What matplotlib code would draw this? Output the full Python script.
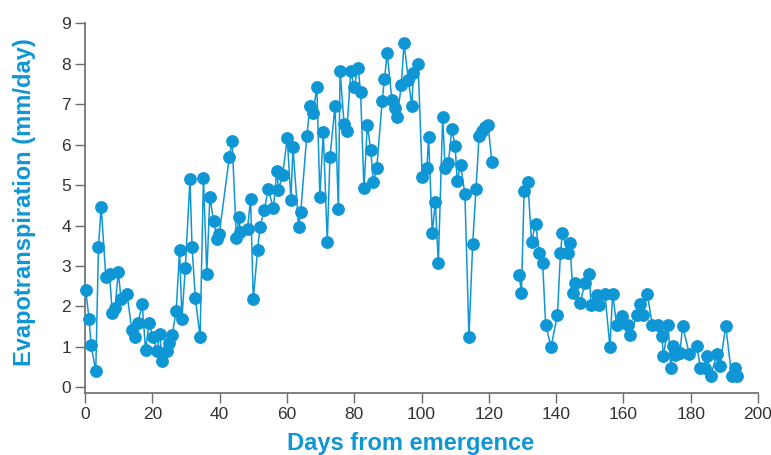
import matplotlib
matplotlib.use("Agg")
import matplotlib.pyplot as plt

days = [0.2, 1.2, 1.8, 3.2, 4.0, 4.8, 6.2, 7.3, 8.1, 8.9, 9.9, 10.7, 12.5, 13.9, 14.9,
        15.7, 17.0, 18.0, 19.0, 20.2, 21.4, 22.2, 23.0, 24.3, 25.1, 25.9, 27.1, 28.1,
        28.8, 29.8, 31.2, 31.8, 32.8, 34.2, 35.2, 36.2, 37.1, 38.2, 39.3, 39.9, 42.9,
        43.7, 45.0, 45.8, 46.1, 48.3, 49.2, 50.0, 51.3, 52.0, 53.3, 54.4, 56.0, 57.0,
        57.5, 58.7, 60.1, 61.2, 61.8, 63.5, 64.1, 65.9, 66.9, 67.8, 68.9, 69.8, 70.8,
        72.0, 72.8, 74.3, 75.3, 75.8, 77.0, 77.8, 79.0, 79.9, 81.2, 81.9, 82.9, 83.9,
        84.9, 85.7, 86.7, 88.3, 89.0, 89.8, 91.2, 92.2, 92.8, 94.0, 94.8, 96.1, 97.1,
        97.6, 99.0, 100.2, 101.6, 102.1, 103.2, 104.1, 105.0, 106.3, 107.0, 108.0,
        109.0, 110.0, 110.6, 111.6, 112.9, 114.1, 115.2, 116.2, 117.1, 118.0, 119.0,
        119.8, 120.9, 129.0, 129.7, 130.5, 131.6, 132.7, 133.9, 135.0, 136.0, 136.9,
        138.5, 140.4, 141.3, 141.9, 143.5, 144.1, 145.0, 145.6, 147.1, 148.6, 149.8,
        150.4, 152.2, 152.7, 154.5, 156.0, 156.8, 158.0, 159.5, 161.5, 162.1, 164.0,
        164.9, 165.8, 167.1, 168.6, 170.3, 171.4, 171.9, 173.3, 174.1, 174.7, 175.3,
        176.8, 177.6, 179.6, 181.8, 182.9, 184.2, 184.7, 186.0, 187.7, 188.7, 190.4,
        192.2, 193.2, 193.9]

et = [2.41, 1.69, 1.04, 0.40, 3.46, 4.47, 2.72, 2.80, 1.83, 1.95, 2.86, 2.18, 2.31, 1.42,
      1.25, 1.58, 2.06, 0.92, 1.58, 1.25, 0.90, 1.32, 0.65, 0.90, 1.10, 1.29, 1.89, 3.39,
      1.70, 2.95, 5.14, 3.48, 2.20, 1.24, 5.17, 2.80, 4.71, 4.12, 3.67, 3.79, 5.70, 6.10,
      3.70, 4.22, 3.85, 3.91, 4.66, 2.18, 3.40, 3.97, 4.38, 4.90, 4.43, 5.36, 4.89, 5.24,
      6.16, 4.64, 5.93, 3.96, 4.33, 6.21, 6.96, 6.79, 7.43, 4.71, 6.32, 3.60, 5.69, 6.96,
      4.40, 7.83, 6.51, 6.34, 7.83, 7.43, 7.89, 7.29, 4.92, 6.49, 5.87, 5.08, 5.42, 7.07,
      7.62, 8.27, 7.10, 6.90, 6.68, 7.48, 8.51, 7.60, 6.95, 7.76, 7.99, 5.21, 5.42, 6.18,
      3.82, 4.58, 3.07, 6.69, 5.43, 5.55, 6.38, 5.97, 5.10, 5.50, 4.78, 1.25, 3.54, 4.90,
      6.22, 6.34, 6.43, 6.48, 5.58, 2.78, 2.34, 4.86, 5.08, 3.60, 4.05, 3.33, 3.07, 1.54,
      1.00, 1.79, 3.33, 3.82, 3.31, 3.58, 2.32, 2.59, 2.09, 2.57, 2.80, 2.04, 2.28, 2.04,
      2.31, 1.00, 2.31, 1.54, 1.76, 1.54, 1.29, 1.80, 2.06, 1.80, 2.30, 1.54, 1.54, 1.27,
      0.77, 1.54, 0.49, 1.02, 0.79, 0.85, 1.52, 0.82, 1.02, 0.49, 0.49, 0.77, 0.28, 0.82,
      0.53, 1.52, 0.28, 0.49, 0.28]

x_ticks = [0, 20, 40, 60, 80, 100, 120, 140, 160, 180, 200]
y_ticks = [0, 1, 2, 3, 4, 5, 6, 7, 8, 9]

BLUE = "#0f96d4"
AXIS = "#6b6b6b"
TXT = "#333333"

plt.rcParams['font.family'] = ['Liberation Sans', 'DejaVu Sans']

fig = plt.figure(figsize=(7.71, 4.55), dpi=100)
ax = fig.add_axes([85 / 771, 1 - 393 / 455, (758 - 85) / 771, (393 - 23.3) / 455])

# split the series where there is a gap in the measurements (no connecting line)
segments = []
start = 0
for i in range(1, len(days)):
    if days[i] - days[i - 1] > 5:
        segments.append((start, i))
        start = i
segments.append((start, len(days)))

for a, b in segments:
    ax.plot(days[a:b], et[a:b], color=BLUE, lw=1.1, marker='o', markersize=8.2,
            markerfacecolor=BLUE, markeredgecolor=BLUE, zorder=3, clip_on=False)

ax.set_xlim(0, 200)
ax.set_ylim(-0.14, 9)
ax.set_xticks(x_ticks)
ax.set_yticks(y_ticks)

for s in ['top', 'right']:
    ax.spines[s].set_visible(False)
for s in ['left', 'bottom']:
    ax.spines[s].set_color(AXIS)
    ax.spines[s].set_linewidth(1.2)

ax.tick_params(axis='both', direction='out', length=7, width=1.0, color=AXIS,
               labelsize=12.5, labelcolor=TXT, pad=3)

ax.set_ylabel("Evapotranspiration (mm/day)", color=BLUE, fontsize=17,
              fontweight='bold')
ax.yaxis.set_label_coords(-0.073, 0.516)
ax.set_xlabel("Days from emergence", color=BLUE, fontsize=17,
              fontweight='bold')
ax.xaxis.set_label_coords(0.484, -0.105)

fig.savefig("out.png", dpi=100)
